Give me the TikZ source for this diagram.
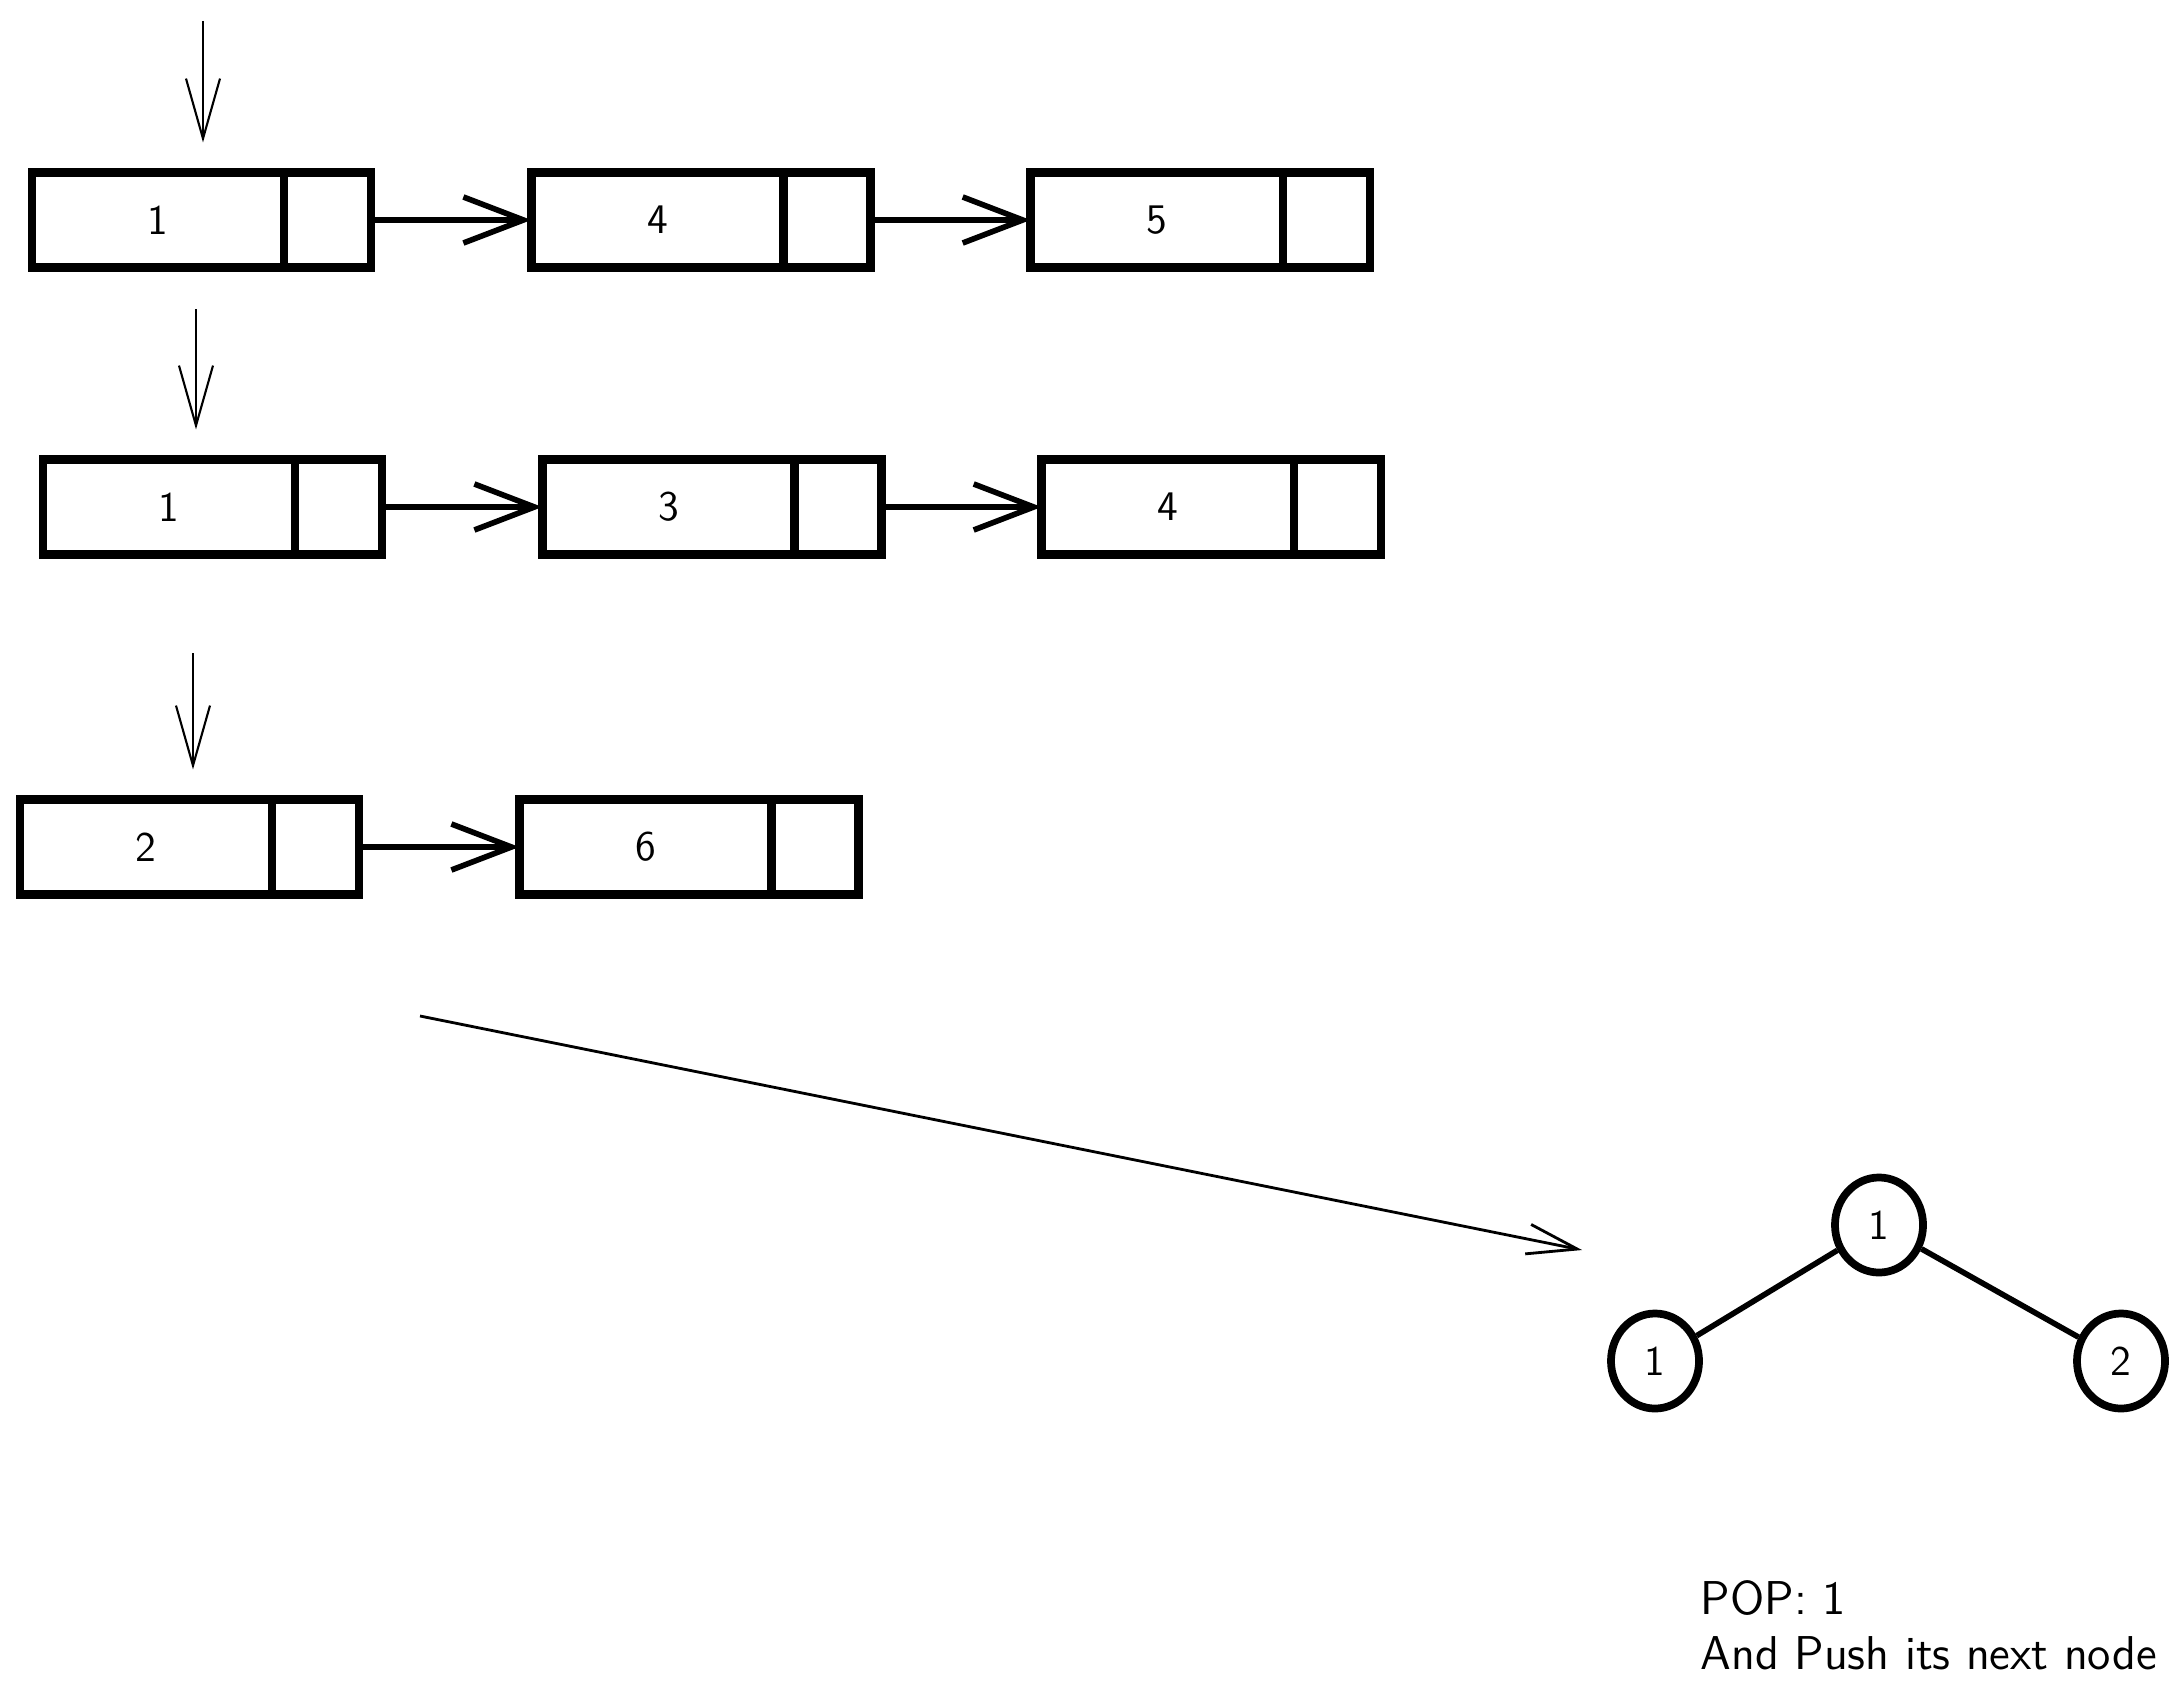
\documentclass[tikz,border=0pt]{standalone}
\usepackage{tikz}
\usetikzlibrary{arrows.meta, positioning, shapes.geometric}

\begin{document}
\begin{tikzpicture}[
  x=0.01cm, y=-0.01cm,
  node distance=1.6cm,
  every node/.style={font=\sffamily\large},
  val/.style={draw, line width=2.4pt, minimum width=2.52cm,
              minimum height=0.95cm, outer sep=0pt},
  nxt/.style={draw, line width=2.4pt, minimum width=0.87cm,
              minimum height=0.95cm, outer sep=0pt},
  tnode/.style={draw, ellipse, line width=2.2pt, minimum width=0.88cm,
                minimum height=0.95cm, inner sep=0pt},
  link/.style={-{Straight Barb[length=6mm, width=4.6mm]}, line width=1.6pt},
  head/.style={-{Straight Barb[length=6mm, width=3.4mm]}, line width=0.6pt,
               shorten >=3mm},
  move/.style={-{Straight Barb[length=5mm, width=3mm]}, line width=0.8pt},
  branch/.style={line width=1.6pt}
]
  \useasboundingbox (0,0) rectangle (2182,1691);

  % first list: 1 -> 4 -> 5
  \node[val, anchor=west] (a1) at (32,220) {1};
  \node[nxt, right=0pt of a1] (a1n) {};
  \node[val, right=of a1n] (a2) {4};
  \node[nxt, right=0pt of a2] (a2n) {};
  \node[val, right=of a2n] (a3) {5};
  \node[nxt, right=0pt of a3] (a3n) {};

  % second list: 1 -> 3 -> 4
  \node[val, anchor=west] (b1) at (43,507) {1};
  \node[nxt, right=0pt of b1] (b1n) {};
  \node[val, right=of b1n] (b2) {3};
  \node[nxt, right=0pt of b2] (b2n) {};
  \node[val, right=of b2n] (b3) {4};
  \node[nxt, right=0pt of b3] (b3n) {};

  % third list: 2 -> 6
  \node[val, anchor=west] (c1) at (20,847) {2};
  \node[nxt, right=0pt of c1] (c1n) {};
  \node[val, right=of c1n] (c2) {6};
  \node[nxt, right=0pt of c2] (c2n) {};

  \draw[link] (a1n) -- (a2);
  \draw[link] (a2n) -- (a3);
  \draw[link] (b1n) -- (b2);
  \draw[link] (b2n) -- (b3);
  \draw[link] (c1n) -- (c2);

  % list heads
  \coordinate (pa) at (203,21);
  \coordinate (pb) at (196,309);
  \coordinate (pc) at (193,653);
  \draw[head] (pa) -- (pa |- a1.north);
  \draw[head] (pb) -- (pb |- b1.north);
  \draw[head] (pc) -- (pc |- c1.north);

  % heap
  \coordinate (go) at (420,1016);
  \coordinate (to) at (1582,1250);
  \draw[move] (go) -- (to);

  \node[tnode] (root) at (1879,1225) {1};
  \node[tnode] (left) at (1655,1361) {1};
  \node[tnode] (right) at (2121,1361) {2};
  \draw[branch] (root) -- (left);
  \draw[branch] (root) -- (right);

  \node[anchor=north west, inner sep=0pt, align=left,
        font=\sffamily\fontsize{13.5}{15.5}\selectfont] (note) at (1700,1580)
        {POP: 1\\And Push its next node};
\end{tikzpicture}
\end{document}
